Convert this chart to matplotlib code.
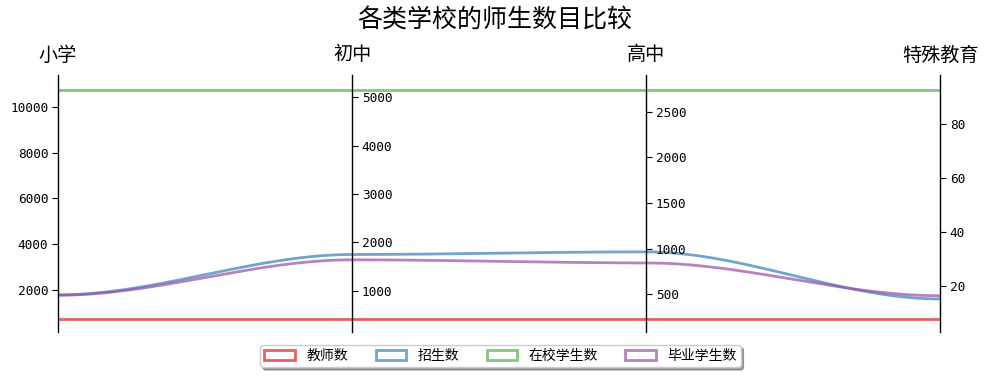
import numpy as np
import matplotlib
matplotlib.use("Agg")
import matplotlib.pyplot as plt
from matplotlib.patches import Patch

plt.rcParams['font.family'] = ['Noto Sans CJK SC', 'DejaVu Sans']

categories = ["小学", "初中", "高中", "特殊教育"]
series_names = ["教师数", "招生数", "在校学生数", "毕业学生数"]
teachers = [712, 421, 229, 7.8]
enrolled = [1767, 1752, 964, 15.2]
in_school = [10747, 5151, 2738, 92.7]
graduates = [1750, 1642, 843, 16.4]
series_values = [teachers, enrolled, in_school, graduates]
colors = ["#E41A1C", "#377EB8", "#4DAF4A", "#984EA3"]
axis_ticks = [[2000, 4000, 6000, 8000, 10000],
              [1000, 2000, 3000, 4000, 5000],
              [500, 1000, 1500, 2000, 2500],
              [20, 40, 60, 80]]

W, H = 989, 379
fig = plt.figure(figsize=(W / 100, H / 100), dpi=100)
rect = [58 / W, (H - 332) / H, (940 - 58) / W, (332 - 75) / H]
ax = fig.add_axes(rect)
n = len(categories)
ax.set_xlim(0, n - 1)
ax.set_ylim(0, 1)
ax.axis('off')

# per-axis ranges
data = np.array(series_values, dtype=float)
los, his = [], []
for j in range(n):
    vmin, vmax = data[:, j].min(), data[:, j].max()
    span = vmax - vmin
    los.append(vmin - 0.057 * span)
    his.append(vmax + 0.065 * span)
los, his = np.array(los), np.array(his)

# smooth lines (zero-slope cubic Hermite between axes)
for vals, c in zip(series_values, colors):
    yn = (np.array(vals, dtype=float) - los) / (his - los)
    xs, ys = [], []
    for j in range(n - 1):
        t = np.linspace(0, 1, 60)
        s = 3 * t ** 2 - 2 * t ** 3
        xs.extend(j + t)
        ys.extend(yn[j] + (yn[j + 1] - yn[j]) * s)
    ax.plot(xs, ys, color=c, alpha=0.7, lw=2, solid_capstyle='butt', zorder=3)

# axes with ticks
for j in range(n):
    a = fig.add_axes(rect)
    a.patch.set_visible(False)
    a.set_xticks([])
    a.set_ylim(los[j], his[j])
    for sp in ['top', 'bottom', 'left', 'right']:
        a.spines[sp].set_visible(False)
    if j == 0:
        a.spines['left'].set_visible(True)
        a.spines['left'].set_position(('axes', 0))
        a.yaxis.set_ticks_position('left')
    else:
        a.spines['right'].set_visible(True)
        a.spines['right'].set_position(('axes', j / (n - 1)))
        a.yaxis.set_ticks_position('right')
    a.spines['left'].set_linewidth(1)
    a.spines['right'].set_linewidth(1)
    a.set_yticks(axis_ticks[j])
    a.set_yticklabels([str(v) for v in axis_ticks[j]], family='DejaVu Sans Mono', fontsize=9.2)
    a.tick_params(axis='y', length=4, width=0.8, pad=3)
    xf = rect[0] + rect[2] * j / (n - 1)
    fig.text(xf, 1 - 55 / H, categories[j], ha='center', va='center', fontsize=13.8)

fig.text(0.5, 1 - 21 / H, "各类学校的师生数目比较", ha='center', va='center', fontsize=18)

handles = [Patch(facecolor='white', edgecolor=c, alpha=0.7, lw=2) for c in colors]
leg = fig.legend(handles, series_names, loc='center', bbox_to_anchor=(0.506, 1 - 356 / H),
                 ncol=4, fontsize=10, frameon=True, fancybox=True, shadow=True,
                 handlelength=2.2, handleheight=0.7, columnspacing=2.0, borderpad=0.3,
                 handletextpad=0.8)
leg.get_frame().set_edgecolor('#cccccc')

fig.savefig("out.png", dpi=100)
